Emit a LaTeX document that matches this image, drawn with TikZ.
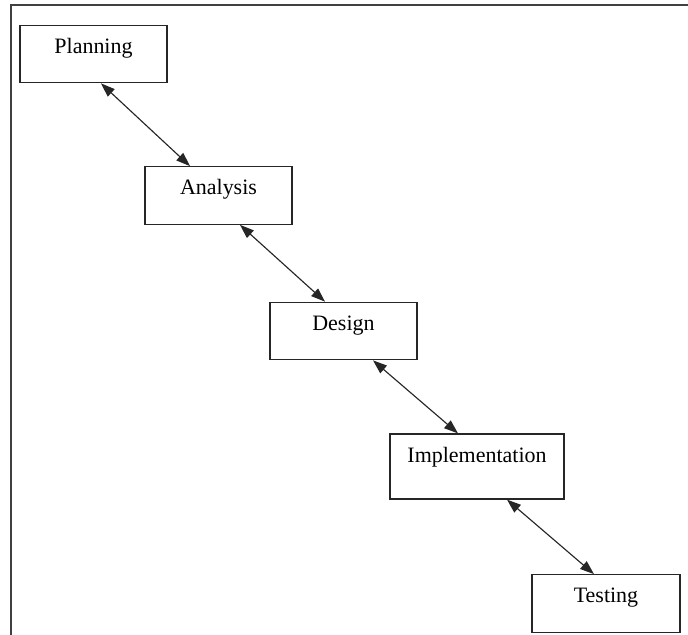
\documentclass[tikz,border=0pt]{standalone}
\usepackage{fontspec}
\setmainfont{Liberation Serif}
\usepackage{tikz}
\usetikzlibrary{arrows.meta}

\begin{document}
\begin{tikzpicture}[
  stage/.style={
    draw=black!85, line width=0.7pt, inner sep=0pt,
    minimum width=2.94cm, minimum height=1.15cm,
    text height=0.56cm, text depth=0.59cm,
    font=\fontsize{12.5}{14}\selectfont, align=center
  },
  arrow/.style={{Triangle[length=2.8mm,width=2mm]}-{Triangle[length=2.8mm,width=2mm]},
                line width=0.65pt, color=black!85},
  frame/.style={line width=1pt, color=black!75}
]
  \useasboundingbox (0,0) rectangle (13.76,-12.70);

  % outer frame (only top and left edges show)
  \coordinate (FTR) at (13.76,-0.10);
  \coordinate (FTL) at (0.22,-0.10);
  \coordinate (FBL) at (0.22,-12.70);
  \draw[frame] (FTR) -- (FTL) -- (FBL);

  \node[stage] (plan)  at (1.87,-1.08)  {Planning};
  \node[stage] (anal)  at (4.37,-3.91)  {Analysis};
  \node[stage] (des)   at (6.87,-6.62)  {Design};
  \node[stage, minimum width=3.48cm, minimum height=1.30cm,
        text depth=0.74cm] (impl) at (9.54,-9.33) {Implementation};
  \node[stage, minimum width=2.96cm] (test) at (12.12,-12.07) {Testing};

  \draw[arrow] ([xshift=0.15cm]plan.south) -- ([xshift=-0.57cm]anal.north);
  \draw[arrow] ([xshift=0.43cm]anal.south) -- ([xshift=-0.37cm]des.north);
  \draw[arrow] ([xshift=0.59cm]des.south)  -- ([xshift=-0.38cm]impl.north);
  \draw[arrow] ([xshift=0.60cm]impl.south) -- ([xshift=-0.24cm]test.north);
\end{tikzpicture}
\end{document}
